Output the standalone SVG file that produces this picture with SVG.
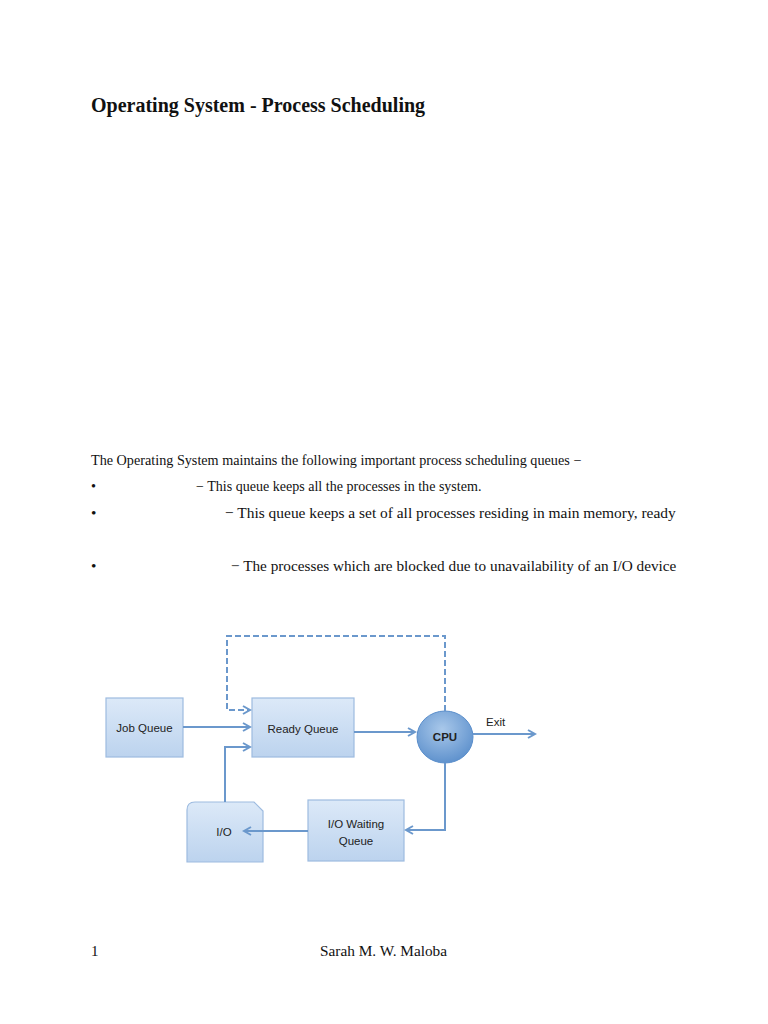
<svg xmlns="http://www.w3.org/2000/svg" width="768" height="1024" viewBox="0 0 768 1024">
<style>
.t{font-family:"Liberation Serif","Times New Roman",serif;fill:#111}
.b{font-family:"Liberation Sans",Arial,sans-serif;font-size:11.5px;fill:#222}
.box{fill:url(#g);stroke:#9dbbe0;stroke-width:1.2}
.c{fill:none;stroke:#6b98cc;stroke-width:2}
</style>
<defs>
<linearGradient id="g" x1="0" y1="0" x2="0" y2="1"><stop offset="0" stop-color="#dce9f8"/><stop offset="1" stop-color="#bcd3ee"/></linearGradient>
<radialGradient id="cg" cx="0.45" cy="0.35" r="0.7"><stop offset="0" stop-color="#a9c8ea"/><stop offset="1" stop-color="#5a8ecb"/></radialGradient>
<marker id="a" markerWidth="10" markerHeight="10" refX="8" refY="5" orient="auto" markerUnits="userSpaceOnUse"><path d="M1,1 L8,5 L1,9" fill="none" stroke="#6b98cc" stroke-width="2"/></marker>
</defs>
<rect width="768" height="1024" fill="#fff"/>
<text class="t" x="91" y="112" font-size="20" font-weight="bold">Operating System - Process Scheduling</text>
<text class="t" x="91" y="465" font-size="14.2">The Operating System maintains the following important process scheduling queues −</text>
<text class="t" x="91" y="491" font-size="14.2">•</text>
<text class="t" x="196" y="491" font-size="14.05">− This queue keeps all the processes in the system.</text>
<text class="t" x="91" y="518" font-size="15.4">•</text>
<text class="t" x="225" y="518" font-size="15.45">− This queue keeps a set of all processes residing in main memory, ready</text>
<text class="t" x="91" y="571" font-size="15.4">•</text>
<text class="t" x="231" y="571" font-size="15.25">− The processes which are blocked due to unavailability of an I/O device</text>
<g id="job"><rect class="box" x="106" y="698" width="77" height="59"/><text class="b" x="144.5" y="732" text-anchor="middle">Job Queue</text></g>
<g id="ready"><rect class="box" x="252" y="698" width="102" height="59"/><text class="b" x="303" y="733" text-anchor="middle">Ready Queue</text></g>
<g id="cpu"><ellipse cx="445" cy="737" rx="28" ry="26" fill="url(#cg)" stroke="#5a8ecb"/><text class="b" x="445" y="741" text-anchor="middle" font-weight="bold" font-size="10.5">CPU</text></g>
<g id="iowq"><rect class="box" x="308" y="800" width="96" height="61"/><text class="b" x="356" y="828" text-anchor="middle">I/O Waiting</text><text class="b" x="356" y="845" text-anchor="middle">Queue</text></g>
<g id="io"><path class="box" d="M195,802 H254 L263,811 V862 H187 V810 Q187,802 195,802 Z"/><text class="b" x="224" y="836" text-anchor="middle">I/O</text></g>
<g id="connectors">
<path class="c" d="M183,727 H250" marker-end="url(#a)"/>
<path class="c" d="M354,732 H415" marker-end="url(#a)"/>
<path class="c" d="M473,734 H535" marker-end="url(#a)"/>
<path class="c" d="M445,711 V636 H227 V710 H250" stroke-dasharray="6,3" marker-end="url(#a)"/>
<path class="c" d="M445,763 V830 H406" marker-end="url(#a)"/>
<path class="c" d="M308,831 H244" marker-end="url(#a)"/>
<path class="c" d="M225,802 V747 H250" marker-end="url(#a)"/>
</g>
<text class="b" x="486" y="726" font-size="12">Exit</text>
<text class="t" x="91" y="956" font-size="15">1</text>
<text class="t" x="320" y="956" font-size="15.3">Sarah M. W. Maloba</text>
</svg>
